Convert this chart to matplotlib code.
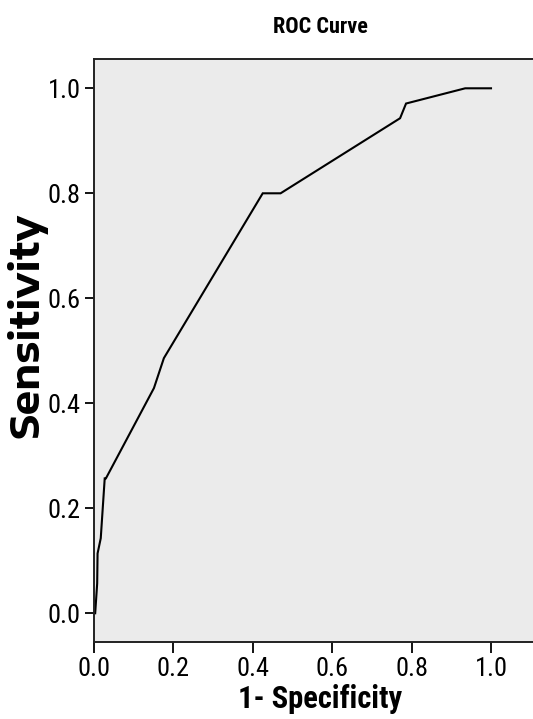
import matplotlib
matplotlib.use('Agg')
import matplotlib.pyplot as plt

# ROC points (35 positive cases)
fpr = [0.0, 0.003, 0.008, 0.009, 0.017, 0.027, 0.030, 0.151, 0.176,
       0.425, 0.470, 0.771, 0.786, 0.935, 1.0]
tpr = [0.0, 0.0, 0.057, 0.114, 0.143, 0.257, 0.257, 0.429, 0.486,
       0.800, 0.800, 0.943, 0.971, 1.0, 1.0]
x_ticks = [0.0, 0.2, 0.4, 0.6, 0.8, 1.0]
y_ticks = [0.0, 0.2, 0.4, 0.6, 0.8, 1.0]

narrow = ['Roboto Condensed', 'Liberation Sans', 'DejaVu Sans']
wide = ['Encode Sans Expanded', 'DejaVu Sans']

W, H = 533, 719
fig = plt.figure(figsize=(W / 100, H / 100), dpi=100)
ax = fig.add_axes([94 / W, (H - 642) / H, (546 - 94) / W, (642 - 59) / H])
ax.set_facecolor('#ebebeb')

ax.plot(fpr, tpr, color='black', linewidth=1.5, solid_joinstyle='miter')

ax.set_xlim(0, (546 - 94) / 397)
ax.set_ylim(-(642 - 613.3) / 525, (613.3 - 59) / 525)
ax.set_xticks(x_ticks)
ax.set_yticks(y_ticks)
ax.set_xticklabels(['%.1f' % v for v in x_ticks], family=narrow, fontsize=19)
ax.set_yticklabels(['%.1f' % v for v in y_ticks], family=narrow, fontsize=19)
ax.tick_params(axis='x', direction='out', length=8, width=1.3, pad=3)
ax.tick_params(axis='y', direction='out', length=6.5, width=1.3, pad=3)

for side in ['top', 'left', 'bottom']:
    ax.spines[side].set_linewidth(1.4)
    ax.spines[side].set_color('#222222')
ax.spines['right'].set_visible(False)

ax.set_xlabel('1- Specificity', family=narrow, fontsize=22,
              fontweight='bold', labelpad=2)
fig.text(27 / W, (H - 325) / H, 'Sensitivity', family=wide,
         fontsize=28, fontweight='bold', rotation=90,
         ha='center', va='center')
fig.text(320 / W, (H - 27) / H, 'ROC Curve', family=narrow, fontsize=16,
         fontweight='bold', ha='center', va='center')

fig.savefig('out.png', dpi=100)
